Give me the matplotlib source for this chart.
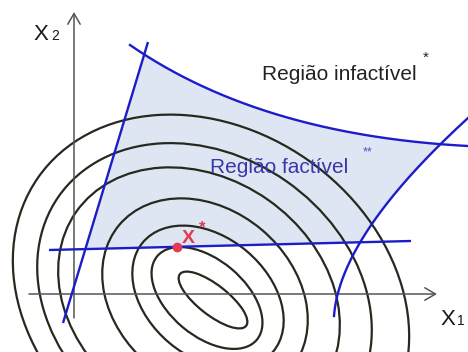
import numpy as np
import matplotlib
matplotlib.use("Agg")
import matplotlib.pyplot as plt
from matplotlib.patches import Ellipse, Polygon

plt.rcParams['font.family'] = ['Liberation Sans', 'DejaVu Sans']

# ---- data (diagram coordinates: origin at axes crossing) ----
# level curves of the objective (ellipses): centre, semi-axes, tilt
ring_cx = [1.39, 1.33, 1.34, 1.31, 1.25, 1.305, 1.37]
ring_cy = [-0.06, -0.04, -0.03, -0.03, -0.04, -0.045, -0.045]
ring_a = [0.42, 0.65, 0.85, 1.12, 1.50, 1.78, 2.11]
ring_b = [0.15, 0.38, 0.60, 0.88, 1.20, 1.43, 1.69]
ring_angle = [-38, -40, -40, -40, -35, -35, -35]

# constraints
lineA_x = [0.74, -0.11]          # steep straight constraint
lineA_y = [2.52, -0.29]
lineH_x = [-0.25, 3.37]          # nearly horizontal constraint
lineH_y = [0.44, 0.53]
top_ctrl_x = [0.56, 1.86, 3.94]  # upper curved constraint (quadratic Bezier)
top_ctrl_y = [2.49, 1.59, 1.48]
right_ctrl_x = [3.94, 2.66, 2.60]  # right curved constraint (quadratic Bezier)
right_ctrl_y = [1.76, 0.59, -0.22]

# optimum
opt_x = [1.03]
opt_y = [0.47]

# axes extents
xaxis_x = [-0.45, 3.63]
yaxis_y = [-0.24, 2.82]

BLUE = '#1c1cc8'
FILL = '#dfe6f3'
RING = '#262a1e'
AXIS = '#555555'
RED = '#e23a52'


def bezier(xs, ys, n=400):
    t = np.linspace(0, 1, n)[:, None]
    P = np.column_stack([xs, ys])
    return (1 - t) ** 2 * P[0] + 2 * t * (1 - t) * P[1] + t ** 2 * P[2]


def segline(xs, ys, n=400):
    t = np.linspace(0, 1, n)[:, None]
    P = np.column_stack([xs, ys])
    return (1 - t) * P[0] + t * P[1]


def intersect(P, Q):
    a1 = P[:-1][:, None, :]
    a2 = P[1:][:, None, :]
    b1 = Q[:-1][None, :, :]
    b2 = Q[1:][None, :, :]
    r = a2 - a1
    s = b2 - b1
    den = r[..., 0] * s[..., 1] - r[..., 1] * s[..., 0]
    qp = b1 - a1
    with np.errstate(divide='ignore', invalid='ignore'):
        t = (qp[..., 0] * s[..., 1] - qp[..., 1] * s[..., 0]) / den
        u = (qp[..., 0] * r[..., 1] - qp[..., 1] * r[..., 0]) / den
    ok = (t >= 0) & (t <= 1) & (u >= 0) & (u <= 1)
    i, j = np.argwhere(ok)[0]
    pt = P[i] + t[i, j] * (P[i + 1] - P[i])
    return i, j, pt


fig = plt.figure(figsize=(4.68, 3.52), dpi=100)
ax = fig.add_axes([0, 0, 1, 1])
ax.set_xlim(-0.74, 3.94)
ax.set_ylim(-0.58, 2.94)
ax.axis('off')

T = bezier(top_ctrl_x, top_ctrl_y)
R = bezier(right_ctrl_x, right_ctrl_y)
A = segline(lineA_x, lineA_y)
H = segline(lineH_x, lineH_y)

# feasible region polygon
iTA, jA_T, pTA = intersect(T, A)
iTR, jR_T, pTR = intersect(T, R)
iRH, jH_R, pRH = intersect(R, H)
iAH, jH_A, pAH = intersect(A, H)
poly = [pTA]
poly += list(T[iTA + 1:iTR + 1])
poly += [pTR]
poly += list(R[jR_T + 1:iRH + 1])
poly += [pRH]
poly += list(H[jH_R:jH_A:-1])
poly += [pAH]
poly += list(A[iAH:jA_T:-1])
ax.add_patch(Polygon(np.array(poly), closed=True, facecolor=FILL, edgecolor='none', zorder=1))

# level curves
for cx, cy, a, b, ang in zip(ring_cx, ring_cy, ring_a, ring_b, ring_angle):
    ax.add_patch(Ellipse((cx, cy), 2 * a, 2 * b, angle=ang, fill=False,
                         edgecolor=RING, lw=1.6, zorder=2))

# axes with open arrows
arr = dict(arrowstyle='->,head_length=0.55,head_width=0.32', color=AXIS, lw=1.1,
           shrinkA=0, shrinkB=0, mutation_scale=14)
ax.annotate('', xy=(xaxis_x[1], 0), xytext=(xaxis_x[0], 0), arrowprops=arr, zorder=3)
ax.annotate('', xy=(0, yaxis_y[1]), xytext=(0, yaxis_y[0]), arrowprops=arr, zorder=3)

# constraints
ax.plot(lineA_x, lineA_y, color=BLUE, lw=1.7, zorder=4, solid_capstyle='butt')
ax.plot(lineH_x, lineH_y, color=BLUE, lw=1.7, zorder=4, solid_capstyle='butt')
ax.plot(T[:, 0], T[:, 1], color=BLUE, lw=1.7, zorder=4)
ax.plot(R[:, 0], R[:, 1], color=BLUE, lw=1.7, zorder=4)

# optimum
ax.plot(opt_x, opt_y, 'o', color=RED, ms=6, zorder=5)
ax.text(1.08, 0.51, 'X', color=RED, fontsize=14, fontweight='bold', ha='left', va='baseline', zorder=6)
ax.text(1.28, 0.66, '*', color=RED, fontsize=12, fontweight='bold', ha='center', va='center', zorder=6)

# labels
ax.text(-0.41, 2.54, 'X', fontsize=16, color='#1a1a1a', ha='left', va='baseline')
ax.text(-0.23, 2.54, '2', fontsize=10, color='#1a1a1a', ha='left', va='baseline')
ax.text(3.66, -0.31, 'X', fontsize=16, color='#1a1a1a', ha='left', va='baseline')
ax.text(3.83, -0.31, '1', fontsize=10, color='#1a1a1a', ha='left', va='baseline')

ax.text(1.88, 2.14, 'Região infactível', fontsize=15, color='#222222', ha='left', va='baseline')
ax.text(3.52, 2.36, '*', fontsize=11, color='#222222', ha='center', va='center')
ax.text(1.36, 1.21, 'Região factível', fontsize=15, color='#3838aa', ha='left', va='baseline', zorder=6)
ax.text(2.94, 1.42, '**', fontsize=9, color='#5050c0', ha='center', va='center', zorder=6)

fig.savefig('out.png', dpi=100)
